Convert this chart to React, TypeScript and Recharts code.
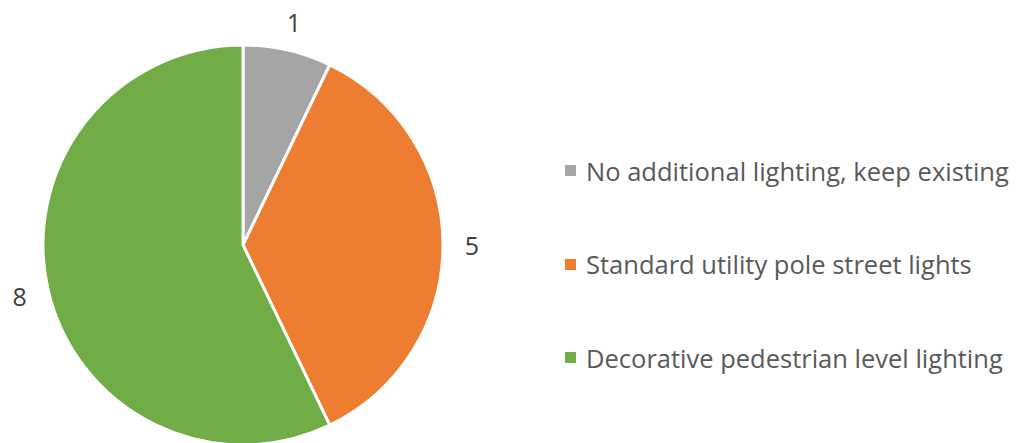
import React from 'react';
import { PieChart, Pie, Cell, Legend } from 'recharts';

const categories = [
  'No additional lighting, keep existing',
  'Standard utility pole street lights',
  'Decorative pedestrian level lighting',
];
const values = [1, 5, 8];
const colors = ['#A5A5A5', '#ED7D31', '#70AD47'];

const data = categories.map((name, i) => ({ name, value: values[i] }));

const RAD = Math.PI / 180;
const FONT = "'Open Sans', Lato, sans-serif";

const renderLabel = (props: any) => {
  const { cx, cy, midAngle, outerRadius, value } = props;
  const r = outerRadius + 29;
  const x = cx + r * Math.cos(-midAngle * RAD);
  const y = cy + r * Math.sin(-midAngle * RAD);
  return (
    <text
      x={x}
      y={y}
      fill="#404040"
      fontSize={25}
      fontFamily={FONT}
      textAnchor="middle"
      dominantBaseline="central"
    >
      {value}
    </text>
  );
};

const renderLegend = () => (
  <div style={{ fontFamily: FONT }}>
    {categories.map((c, i) => (
      <div
        key={c}
        style={{ height: 93.5, display: 'flex', alignItems: 'center', whiteSpace: 'nowrap' }}
      >
        <span
          style={{
            width: 11,
            height: 11,
            background: colors[i],
            display: 'inline-block',
            marginRight: 10,
            flexShrink: 0,
          }}
        />
        <span style={{ fontSize: 25.5, color: '#595959', lineHeight: '30px' }}>{c}</span>
      </div>
    ))}
  </div>
);

export default function App() {
  return (
    <div style={{ position: 'absolute', left: 0, top: 0, width: 1016, height: 443, background: '#fff' }}>
      <PieChart width={1016} height={443} margin={{ top: 0, right: 0, bottom: 0, left: 0 }}>
        <Pie
          data={data}
          dataKey="value"
          nameKey="name"
          cx={243}
          cy={245}
          outerRadius={200}
          startAngle={90}
          endAngle={-270}
          stroke="#ffffff"
          strokeWidth={3}
          label={renderLabel}
          labelLine={false}
          isAnimationActive={false}
        >
          {data.map((d, i) => (
            <Cell key={d.name} fill={colors[i]} />
          ))}
        </Pie>
        <Legend
          content={renderLegend}
          wrapperStyle={{ position: 'absolute', left: 565, top: 124, width: 451 }}
        />
      </PieChart>
    </div>
  );
}
